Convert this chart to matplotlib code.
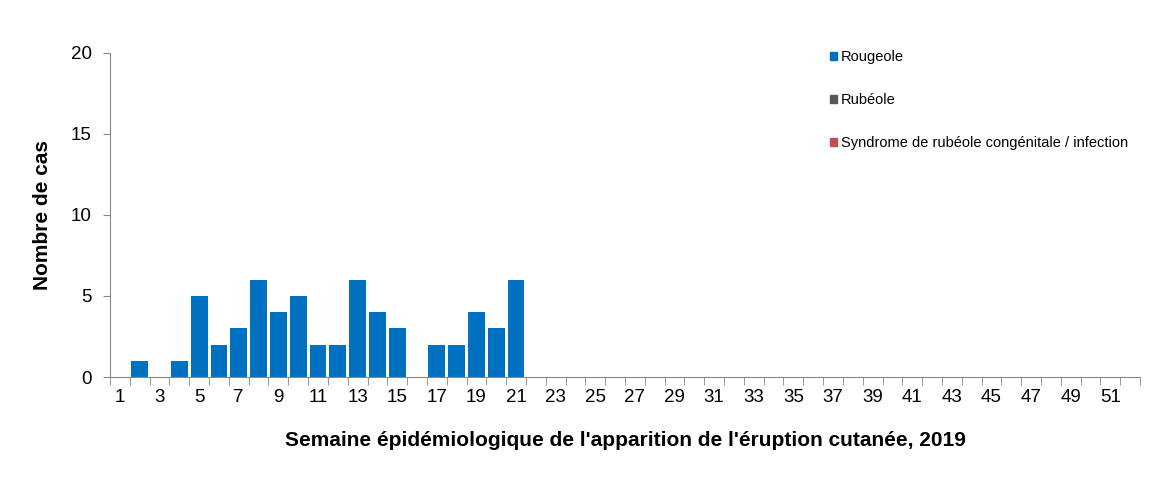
import matplotlib
matplotlib.use("Agg")
import matplotlib.pyplot as plt
from matplotlib.patches import Patch

plt.rcParams['font.family'] = ['Liberation Sans', 'DejaVu Sans']

weeks = list(range(1, 53))
rougeole = [0,1,0,1,5,2,3,6,4,5,2,2,6,4,3,0,2,2,4,3,6] + [0]*31
rubeole = [0]*52
src = [0]*52
tick_labels = [str(w) if w % 2 == 1 else "" for w in weeks]

fig = plt.figure(figsize=(11.57, 4.97), dpi=100)
ax = fig.add_axes([110/1157, 1-377/497, 1030/1157, 324/497])
ax.bar(weeks, rougeole, width=0.85, color="#0070C0")
ax.set_xlim(0.5, 52.5)
ax.set_ylim(0, 20)
ax.set_yticks([0, 5, 10, 15, 20])
ax.set_xticks(weeks)
ax.set_xticklabels(tick_labels)
ax.set_xticks([w + 0.5 for w in range(0, 53)], minor=True)
ax.tick_params(axis="x", which="major", length=0, labelsize=13.5, pad=9)
ax.tick_params(axis="x", which="minor", length=6, color="#888888")
ax.tick_params(axis="y", labelsize=13.5, length=5, color="#888888", pad=8)
for s in ["top", "right"]:
    ax.spines[s].set_visible(False)
ax.spines["left"].set_color("#888888")
ax.spines["bottom"].set_color("#888888")
ax.set_ylabel("Nombre de cas", fontsize=15, fontweight="bold", labelpad=14)
ax.set_xlabel("Semaine épidémiologique de l'apparition de l'éruption cutanée, 2019",
              fontsize=15, fontweight="bold", labelpad=18)
handles = [Patch(color="#0070C0", label="Rougeole"),
           Patch(color="#595959", label="Rubéole"),
           Patch(color="#C0504D", label="Syndrome de rubéole congénitale / infection")]
fig.legend(handles=handles, loc="upper left", bbox_to_anchor=(824/1157, 1-44/497),
           frameon=False, fontsize=10.5, handlelength=0.5, handleheight=0.5,
           handletextpad=0.25, labelspacing=2.0, borderaxespad=0)
fig.savefig("out.png", dpi=100)
